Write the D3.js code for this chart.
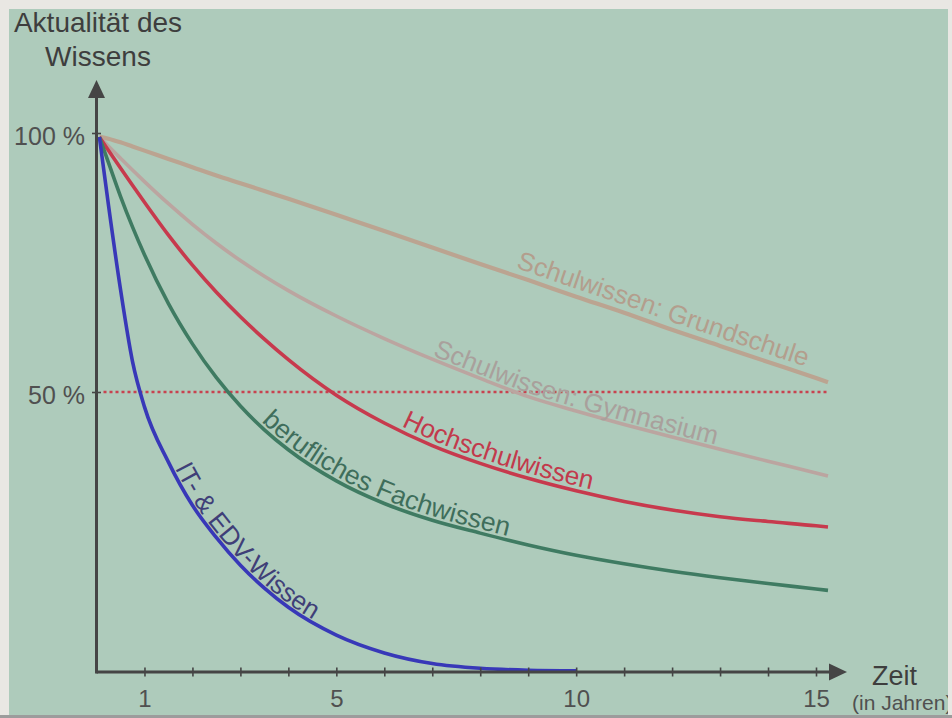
<!DOCTYPE html>
<html><head><meta charset="utf-8">
<script src="https://cdn.jsdelivr.net/npm/d3@7"></script>
<style>
html,body{margin:0;padding:0;background:#e9e7e3;}
svg{display:block;}
text{font-family:"Liberation Sans", Arial, sans-serif;}
</style>
</head><body>
<svg id="c" width="952" height="718"></svg>
<script>
// ---- data ----
const years = [0.06,0.25,0.5,0.75,1,1.5,2,2.5,3,3.5,4,5,6,7,8,9,10,11,12,13,14,15,15.25];
const grundschule = [99.3,98.9,98.2,97.4,96.6,95.0,93.4,91.8,90.3,88.8,87.3,84.2,81.1,77.9,74.7,71.6,68.4,65.3,62.0,58.9,55.8,52.7,51.9];
const gymnasium   = [99.23,97.43,95.12,92.84,90.62,86.35,82.37,78.71,75.37,72.36,69.58,64.67,60.31,56.33,52.63,49.18,46.61,44.21,41.95,39.77,37.63,35.54,35.0];
const hochschul   = [99.23,96.64,93.26,89.9,86.62,80.27,74.48,69.25,64.52,60.21,56.24,49.43,44.46,40.43,37.25,34.59,32.36,30.46,28.93,27.73,26.88,26.11,25.89];
const fachwissen  = [99.23,94.27,87.78,81.87,76.49,67.07,59.29,52.76,47.5,43.25,39.68,34.13,30.09,27.09,24.8,22.68,20.84,19.32,17.98,16.82,15.79,14.82,14.57];
const itWissen    = [99.23,86.04,69.83,55.93,47.34,37.48,29.77,23.98,19.05,14.98,11.55,6.59,3.41,1.52,0.66,0.32,0.23,null,null,null,null,null,null];
const seriesLabels = ["Schulwissen: Grundschule","Schulwissen: Gymnasium","Hochschulwissen","berufliches Fachwissen","IT- & EDV-Wissen"];
const xTickValues = [1,2,3,4,5,6,7,8,9,10,11,12,13,14,15];
const xTickLabels = [1,5,10,15];
const yTickValues = [50,100];
const referenceLevel = 50;

// ---- styles ----
const seriesValues = [grundschule, gymnasium, hochschul, fachwissen, itWissen];
const lineColors  = ["#bba491","#bba5a0","#c73a4d","#3f7b62","#3838b8"];
const labelColors = ["#b39e8d","#a9a09c","#c23a4c","#3f6e5b","#3f3f78"];
const lineWidths  = [4.2,3.6,3.6,3.6,3.6];
const labelStartYear = [8.72,6.97,6.35,3.4,1.62];
const labelGap = [7.5,3.5,5,4,3];
const labelSizes = [26,26,26,26.5,26];

const svg = d3.select("#c");
svg.append("rect").attr("width",952).attr("height",718).attr("fill","#e9e7e3");
svg.append("rect").attr("x",0).attr("y",715).attr("width",952).attr("height",3).attr("fill","#9c9c9c");
svg.append("rect").attr("x",9).attr("y",9).attr("width",939).attr("height",706).attr("fill","#aecbbb");
svg.append("clipPath").attr("id","panel").append("rect").attr("x",9).attr("y",9).attr("width",939).attr("height",706);

const g = svg.append("g").attr("clip-path","url(#panel)");

const x = d3.scaleLinear().domain([0,15]).range([96.5,816]);
const y = d3.scaleLinear().domain([0,50,100]).range([672,392,133]);
const axisColor = "#454545";

// reference dotted line at 50 %
g.append("line")
  .attr("x1", x(0)+7).attr("x2", x(years[years.length-1]))
  .attr("y1", y(referenceLevel)).attr("y2", y(referenceLevel))
  .attr("stroke","#c8424f").attr("stroke-width",2.4).attr("stroke-dasharray","3,3");

// curves
const line = d3.line()
  .defined(d => d[1] != null)
  .x(d => x(d[0])).y(d => y(d[1]))
  .curve(d3.curveMonotoneX);

const curveNodes = [];
seriesValues.forEach((vals,i) => {
  const pts = years.map((yr,j) => [yr, vals[j]]).filter(d => d[1] != null);
  const p = g.append("path").attr("d", line(pts))
    .attr("fill","none").attr("stroke",lineColors[i]).attr("stroke-width",lineWidths[i]);
  curveNodes.push(p.node());
});

// labels along curves (offset paths)
function offsetPts(node, d, n) {
  const L = node.getTotalLength(), pts = [];
  for (let i=0;i<=n;i++){
    const s = L*i/n, p = node.getPointAtLength(s);
    const a = node.getPointAtLength(Math.max(0,s-3)), b = node.getPointAtLength(Math.min(L,s+3));
    let dx=b.x-a.x, dy=b.y-a.y; const m=Math.hypot(dx,dy)||1; dx/=m; dy/=m;
    pts.push([p.x+dy*d, p.y-dx*d]);
  }
  return pts;
}
const defs = svg.append("defs");
curveNodes.forEach((node,i) => {
  const pts = offsetPts(node, labelGap[i], 400);
  defs.append("path").attr("id","lp"+i).attr("d","M"+pts.map(p=>p[0].toFixed(2)+","+p[1].toFixed(2)).join("L"));
  const sx = x(labelStartYear[i]);
  let acc = 0;
  for (let k=1;k<pts.length;k++){
    if (pts[k-1][0] >= sx) break;
    acc += Math.hypot(pts[k][0]-pts[k-1][0], pts[k][1]-pts[k-1][1]);
  }
  g.append("text").attr("font-size",labelSizes[i]).attr("fill",labelColors[i])
    .append("textPath").attr("href","#lp"+i).attr("startOffset",acc.toFixed(1))
    .text(seriesLabels[i]);
});

// x axis
const xAxis = g.append("g").attr("transform",`translate(0,${y(0)})`)
  .call(d3.axisBottom(x).tickValues(xTickValues).tickSize(4)
    .tickFormat(d => xTickLabels.includes(d) ? d : ""));
xAxis.select(".domain").remove();
xAxis.selectAll(".tick line").attr("y1",-4.5).attr("y2",4.5).attr("stroke",axisColor).attr("stroke-width",1.6);
xAxis.selectAll(".tick text").attr("y",35).attr("dy",0).attr("font-size",24).attr("fill","#505050")
  .attr("font-family",'"Liberation Sans", Arial, sans-serif');
g.append("line").attr("x1",x(0)).attr("x2",829).attr("y1",y(0)).attr("y2",y(0))
  .attr("stroke",axisColor).attr("stroke-width",3);
g.append("path").attr("d",`M829,${y(0)-8.5}L847,${y(0)}L829,${y(0)+8.5}Z`).attr("fill",axisColor);

// y axis
const yAxis = g.append("g").attr("transform",`translate(${x(0)},0)`)
  .call(d3.axisLeft(y).tickValues(yTickValues).tickSize(4).tickFormat(d => d+" %"));
yAxis.select(".domain").remove();
yAxis.selectAll(".tick line").attr("x1",-4.5).attr("x2",4.5).attr("stroke",axisColor).attr("stroke-width",1.6);
yAxis.selectAll(".tick text").attr("x",-11.5).attr("dy",0).attr("y",11).attr("font-size",25).attr("fill","#505050")
  .attr("font-family",'"Liberation Sans", Arial, sans-serif');
g.append("line").attr("x1",x(0)).attr("x2",x(0)).attr("y1",y(0)+1.5).attr("y2",98)
  .attr("stroke",axisColor).attr("stroke-width",3);
g.append("path").attr("d",`M${x(0)-8.5},98L${x(0)},80L${x(0)+8.5},98Z`).attr("fill",axisColor);

// titles
const title = g.append("text").attr("text-anchor","middle").attr("font-size",28).attr("fill","#3e3e3e");
title.append("tspan").attr("x",98).attr("y",32).text("Aktualität des");
title.append("tspan").attr("x",98).attr("y",66).text("Wissens");
g.append("text").attr("x",872).attr("y",685).attr("font-size",27).attr("fill","#3e3e3e").text("Zeit");
g.append("text").attr("x",852).attr("y",710).attr("font-size",21).attr("fill","#505050").text("(in Jahren)");
</script>
</body></html>
